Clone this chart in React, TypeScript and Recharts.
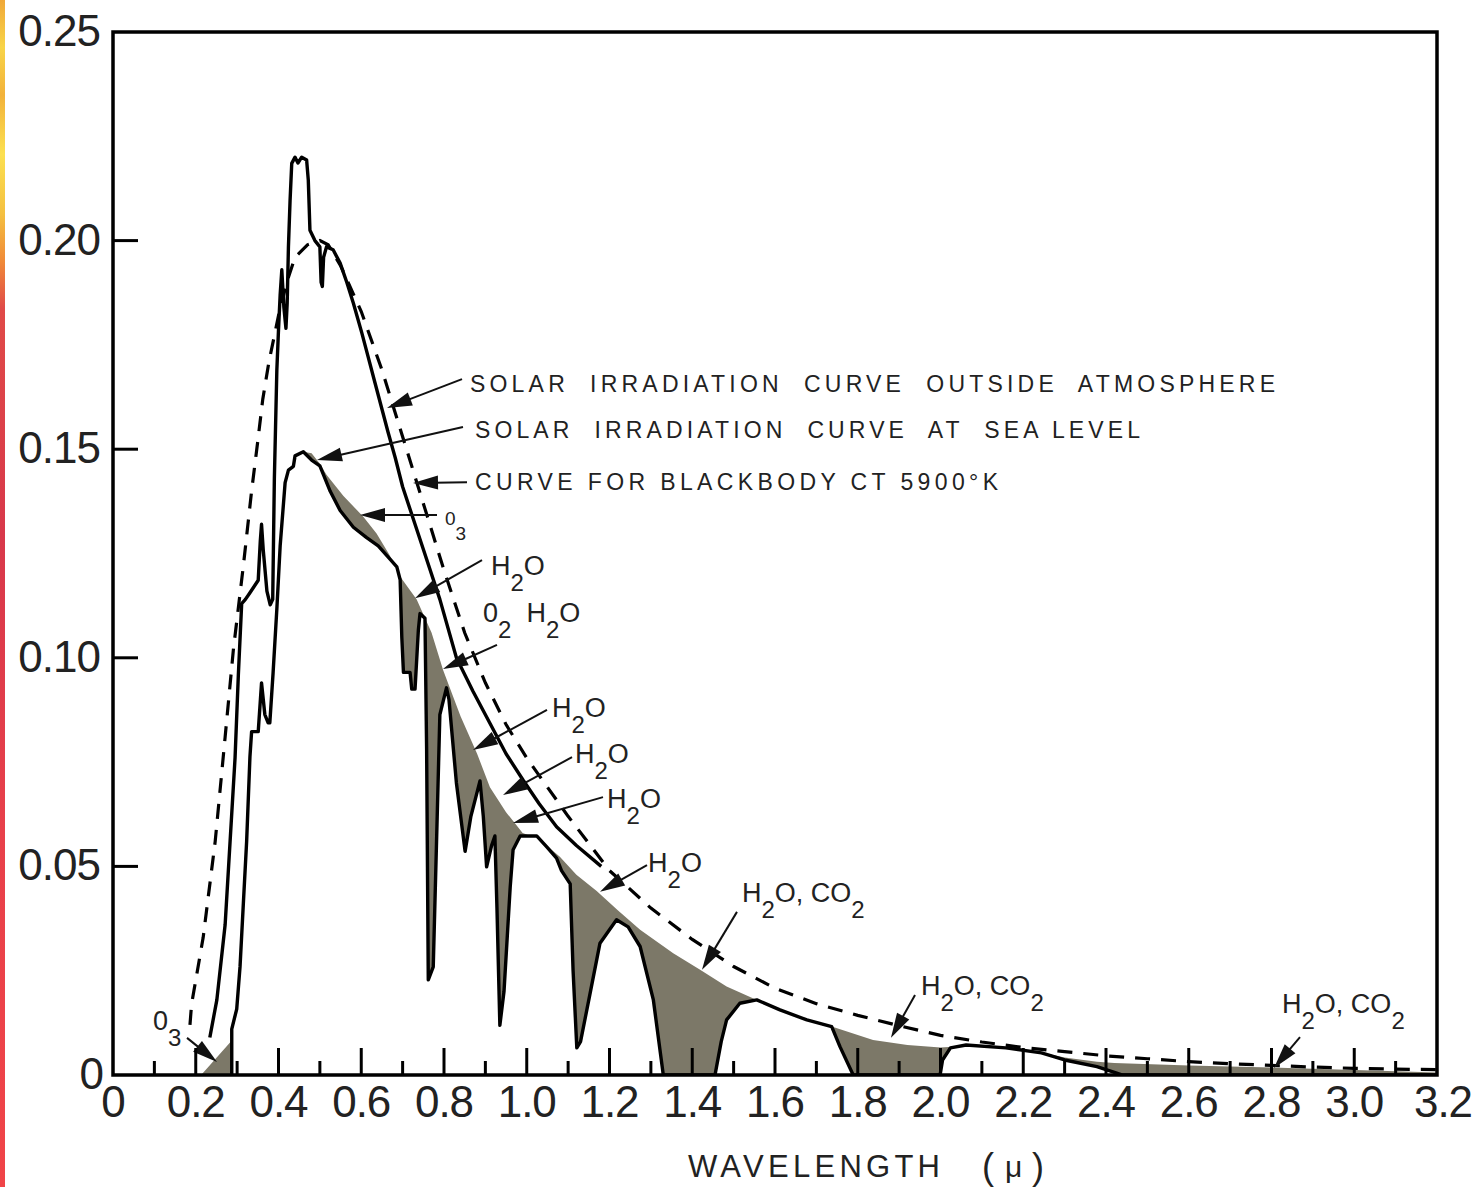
import React from 'react';
import { ComposedChart, Line, Area, XAxis, YAxis, ReferenceLine, ReferenceDot, ReferenceArea, Label } from 'recharts';

type Pt = [number, number];

// Blackbody curve 5900 K (dashed)
const blackbodyCurve: Pt[] = [
  [0.186, 0.012], [0.19, 0.017], [0.218, 0.033], [0.247, 0.056], [0.271, 0.081], [0.291, 0.102],
  [0.315, 0.122], [0.335, 0.14], [0.35, 0.152], [0.362, 0.162], [0.377, 0.171], [0.4, 0.182],
  [0.42, 0.19], [0.44, 0.196], [0.47, 0.199], [0.5, 0.2], [0.52, 0.199], [0.55, 0.194], [0.6, 0.183],
  [0.65, 0.169], [0.7, 0.153], [0.75, 0.137], [0.8, 0.121], [0.85, 0.106], [0.9, 0.094], [0.95, 0.084],
  [1.0, 0.076], [1.1, 0.062], [1.2, 0.049], [1.3, 0.04], [1.4, 0.0325], [1.5, 0.026], [1.6, 0.0208],
  [1.7, 0.0171], [1.8, 0.0143], [1.9, 0.0118], [2.0, 0.0095], [2.1, 0.0079], [2.2, 0.0066], [2.3, 0.0056],
  [2.4, 0.0046], [2.5, 0.0039], [2.6, 0.0032], [2.7, 0.0027], [2.8, 0.0023], [2.9, 0.0019], [3.0, 0.0016],
  [3.1, 0.0014], [3.2, 0.0013],
];

// Solar irradiation outside atmosphere (solid)
const outsideAtmosphere: Pt[] = [
  [0.234, 0.009], [0.251, 0.018], [0.271, 0.036], [0.283, 0.056], [0.295, 0.076], [0.303, 0.096],
  [0.311, 0.113], [0.32, 0.114], [0.331, 0.1156], [0.351, 0.1186], [0.356, 0.128], [0.359, 0.132],
  [0.363, 0.126], [0.372, 0.116], [0.38, 0.1127], [0.386, 0.114], [0.39, 0.143], [0.396, 0.169],
  [0.4, 0.1786], [0.404, 0.187], [0.408, 0.193], [0.413, 0.184], [0.418, 0.179], [0.421, 0.185],
  [0.424, 0.1985], [0.428, 0.2097], [0.432, 0.2185], [0.44, 0.22], [0.447, 0.2186], [0.456, 0.22],
  [0.468, 0.2193], [0.472, 0.2145], [0.476, 0.2025], [0.488, 0.2], [0.5, 0.1985], [0.503, 0.19],
  [0.506, 0.189], [0.509, 0.196], [0.516, 0.1985], [0.532, 0.1978], [0.549, 0.1946], [0.565, 0.19],
  [0.581, 0.185], [0.601, 0.178], [0.617, 0.172], [0.633, 0.166], [0.649, 0.16], [0.665, 0.154],
  [0.682, 0.148], [0.7, 0.141], [0.73, 0.132], [0.75, 0.126], [0.79, 0.114], [0.83, 0.1],
  [0.87, 0.092], [0.911, 0.0843], [0.95, 0.077], [0.991, 0.0707], [1.03, 0.065], [1.072, 0.0595],
  [1.12, 0.055], [1.18, 0.05],
];

// Solar irradiation at sea level (solid, with absorption bands)
const seaLevel: Pt[] = [
  [0.287, 0], [0.287, 0.011], [0.299, 0.0158], [0.307, 0.0259], [0.315, 0.041], [0.323, 0.056],
  [0.331, 0.0763], [0.335, 0.0823], [0.351, 0.0823], [0.359, 0.094], [0.367, 0.0864], [0.375, 0.0844],
  [0.379, 0.0844], [0.387, 0.0965], [0.396, 0.1117], [0.404, 0.1268], [0.416, 0.142], [0.424, 0.145],
  [0.436, 0.1459], [0.44, 0.1484], [0.46, 0.1494], [0.48, 0.1474], [0.5, 0.146], [0.525, 0.1399],
  [0.549, 0.1353], [0.581, 0.1313], [0.613, 0.1288], [0.641, 0.1268], [0.669, 0.1237], [0.686, 0.1218],
  [0.694, 0.1187], [0.698, 0.105], [0.702, 0.0965], [0.718, 0.0965], [0.722, 0.0925], [0.73, 0.0925],
  [0.738, 0.1066], [0.742, 0.1106], [0.754, 0.1095], [0.758, 0.078], [0.762, 0.0228], [0.774, 0.0259],
  [0.782, 0.056], [0.79, 0.0864], [0.806, 0.0928], [0.812, 0.09], [0.83, 0.07], [0.851, 0.0536],
  [0.865, 0.062], [0.887, 0.0705], [0.895, 0.062], [0.903, 0.0499], [0.915, 0.055], [0.923, 0.0573],
  [0.928, 0.04], [0.935, 0.0119], [0.945, 0.02], [0.96, 0.045], [0.967, 0.054], [0.984, 0.0573],
  [1.024, 0.0573], [1.05, 0.0545], [1.072, 0.052], [1.084, 0.049], [1.105, 0.0458], [1.112, 0.025],
  [1.121, 0.0065], [1.13, 0.008], [1.15, 0.018], [1.177, 0.0316], [1.217, 0.0372], [1.245, 0.0355],
  [1.274, 0.0308], [1.306, 0.018], [1.33, 0], [1.455, 0], [1.47, 0.008], [1.483, 0.0132],
  [1.515, 0.0172], [1.556, 0.018], [1.612, 0.0156], [1.677, 0.0132], [1.737, 0.0116], [1.757, 0.0068],
  [1.789, 0], [1.999, 0], [2.005, 0.0036], [2.024, 0.0065], [2.062, 0.0072], [2.158, 0.0065],
  [2.244, 0.0053], [2.3, 0.0036], [2.378, 0.002], [2.424, 0.0005], [2.44, 0], [3.2, 0],
];

// Upper edge of the shaded absorption area (sea level without molecular absorption)
const absorptionEnvelope: Pt[] = [
  [0.46, 0.1494], [0.48, 0.149], [0.5, 0.1465], [0.516, 0.1439], [0.557, 0.1388], [0.605, 0.1338],
  [0.637, 0.1298], [0.669, 0.1245], [0.69, 0.12], [0.734, 0.114], [0.77, 0.106], [0.798, 0.097],
  [0.84, 0.086], [0.88, 0.077], [0.911, 0.069], [0.95, 0.063], [0.99, 0.058], [1.03, 0.0565],
  [1.08, 0.0523], [1.12, 0.048], [1.169, 0.0441], [1.22, 0.0395], [1.274, 0.0348], [1.354, 0.0292],
  [1.419, 0.0252], [1.483, 0.0212], [1.556, 0.018], [1.612, 0.0156], [1.677, 0.0132], [1.737, 0.0116],
  [1.837, 0.0084], [1.92, 0.0072], [2.0, 0.0066], [2.03, 0.0068], [2.08, 0.0069], [2.158, 0.0066],
  [2.244, 0.0054], [2.3, 0.0042], [2.378, 0.0032], [2.42, 0.0029], [2.6, 0.0023], [2.8, 0.0018],
  [3.0, 0.0012], [3.2, 0.0006],
];

// Ozone UV absorption wedge
const ozoneUV: Pt[] = [[0.213, 0], [0.285, 0.008], [0.2875, 0.0085], [0.2875, 0]];

const xTicks = [0, 0.1, 0.2, 0.3, 0.4, 0.5, 0.6, 0.7, 0.8, 0.9, 1.0, 1.1, 1.2, 1.3, 1.4, 1.5, 1.6,
  1.7, 1.8, 1.9, 2.0, 2.1, 2.2, 2.3, 2.4, 2.5, 2.6, 2.7, 2.8, 2.9, 3.0, 3.1, 3.2];
const xTickLabels = ['0', '0.2', '0.4', '0.6', '0.8', '1.0', '1.2', '1.4', '1.6', '1.8', '2.0', '2.2',
  '2.4', '2.6', '2.8', '3.0', '3.2'];
const yTicks = [0, 0.05, 0.1, 0.15, 0.2, 0.25];
const yTickLabels = ['0', '0.05', '0.10', '0.15', '0.20', '0.25'];

type Note = { text: string; at: Pt; from: Pt; tip: Pt; kind: 'long' | 'chem' | 'small'; len?: number };
const annotations: Note[] = [
  { text: 'SOLAR  IRRADIATION  CURVE  OUTSIDE  ATMOSPHERE', at: [0.8628, 0.1637], from: [0.8435, 0.1668], tip: [0.6622, 0.1599], kind: 'long', len: 805 },
  { text: 'SOLAR  IRRADIATION  CURVE  AT  SEA LEVEL', at: [0.8749, 0.1527], from: [0.8459, 0.1553], tip: [0.4931, 0.1474], kind: 'long', len: 665 },
  { text: 'CURVE FOR BLACKBODY CT 5900°K', at: [0.8749, 0.1402], from: [0.8556, 0.1421], tip: [0.7251, 0.1419], kind: 'long', len: 523 },
  { text: '0_3', at: [0.8024, 0.1318], from: [0.7831, 0.1342], tip: [0.597, 0.1342], kind: 'small' },
  { text: 'H_2O', at: [0.9136, 0.1198], from: [0.8918, 0.1234], tip: [0.7299, 0.1143], kind: 'chem' },
  { text: '0_2  H_2O', at: [0.8943, 0.1086], from: [0.9281, 0.1031], tip: [0.7976, 0.0973], kind: 'chem' },
  { text: 'H_2O', at: [1.061, 0.0858], from: [1.0489, 0.0875], tip: [0.8701, 0.0779], kind: 'chem' },
  { text: 'H_2O', at: [1.1166, 0.0748], from: [1.1094, 0.0762], tip: [0.9426, 0.0671], kind: 'chem' },
  { text: 'H_2O', at: [1.194, 0.064], from: [1.1843, 0.0666], tip: [0.9668, 0.0604], kind: 'chem' },
  { text: 'H_2O', at: [1.2931, 0.0487], from: [1.2906, 0.0503], tip: [1.177, 0.0439], kind: 'chem' },
  { text: 'H_2O, CO_2', at: [1.5202, 0.0415], from: [1.5081, 0.0391], tip: [1.4236, 0.0252], kind: 'chem' },
  { text: 'H_2O, CO_2', at: [1.9529, 0.0192], from: [1.9384, 0.0192], tip: [1.8803, 0.0089], kind: 'chem' },
  { text: 'H_2O, CO_2', at: [2.8254, 0.0149], from: [2.8689, 0.0091], tip: [2.806, 0.0017], kind: 'chem' },
  { text: '0_3', at: [0.0967, 0.0108], from: [0.1789, 0.0089], tip: [0.2514, 0.0031], kind: 'chem' },
];

const rows = (pts: Pt[]) => pts.map(([x, v]) => ({ x, v }));

const FONT = '"Liberation Sans", Arial, Helvetica, sans-serif';
const INK = '#000';
const TEXT = '#222';
const GRAY = '#7c7868';

const renderChem = (str: string, subSize: number, subDy: number) => {
  const out: React.ReactNode[] = [];
  let buf = '';
  let lowered = false;
  let k = 0;
  const flush = () => {
    if (!buf) return;
    out.push(<tspan key={k++} dy={lowered ? -subDy : undefined}>{buf}</tspan>);
    lowered = false;
    buf = '';
  };
  for (let i = 0; i < str.length; i++) {
    if (str[i] === '_' && i + 1 < str.length) {
      flush();
      out.push(<tspan key={k++} fontSize={subSize} dy={subDy}>{str[i + 1]}</tspan>);
      lowered = true;
      i++;
    } else buf += str[i];
  }
  flush();
  return out;
};

const NoteText = ({ cx, cy, note }: { cx: number; cy: number; note: Note }) => {
  if (note.kind === 'long') {
    return (
      <text x={cx} y={cy} fontSize={23} fill={TEXT} fontFamily={FONT} textLength={note.len}
        lengthAdjust="spacing" style={{ whiteSpace: 'pre' }}>{note.text}</text>
    );
  }
  const size = note.kind === 'small' ? 19 : 27;
  const sub = note.kind === 'small' ? 19 : 24;
  const dy = note.kind === 'small' ? 15 : 16;
  return (
    <text x={cx} y={cy} fontSize={size} fill={TEXT} fontFamily={FONT} style={{ whiteSpace: 'pre' }}>
      {renderChem(note.text, sub, dy)}
    </text>
  );
};

const ArrowShape = (props: any) => {
  const { x1, y1, x2, y2 } = props;
  if ([x1, y1, x2, y2].some((v) => typeof v !== 'number' || isNaN(v))) return null;
  const dx = x2 - x1;
  const dy = y2 - y1;
  const L = Math.hypot(dx, dy) || 1;
  const ux = dx / L;
  const uy = dy / L;
  const hl = 25;
  const hw = 7;
  const bx = x2 - ux * hl;
  const by = y2 - uy * hl;
  const px = -uy;
  const py = ux;
  return (
    <g>
      <line x1={x1} y1={y1} x2={bx + ux * 4} y2={by + uy * 4} stroke="#111" strokeWidth={2} />
      <polygon points={`${x2},${y2} ${bx + px * hw},${by + py * hw} ${bx - px * hw},${by - py * hw}`} fill="#111" />
    </g>
  );
};

const BottomTick = (props: any) => {
  const { x, y, payload } = props;
  const tenth = Math.round(payload.value * 10);
  const major = tenth % 2 === 0;
  const showLine = tenth > 0 && tenth < 32;
  const label = major ? xTickLabels[tenth / 2] : '';
  return (
    <g>
      {showLine && <line x1={x} y1={y} x2={x} y2={y - (major ? 27 : 14)} stroke={INK} strokeWidth={3} />}
      {label && (
        <text x={x + (tenth === 32 ? 6 : 0)} y={y + 42} textAnchor="middle" fontSize={44} fill={TEXT}
          fontFamily={FONT} letterSpacing={-1}>{label}</text>
      )}
    </g>
  );
};

const TopTick = (props: any) => {
  const { x, y, payload } = props;
  const tenth = Math.round(payload.value * 10);
  if (tenth <= 0 || tenth >= 32) return <g />;
  const major = tenth % 2 === 0;
  return <line x1={x} y1={y} x2={x} y2={y + (major ? 24 : 12)} stroke={INK} strokeWidth={3} />;
};

const LeftTick = (props: any) => {
  const { x, y, payload, index } = props;
  const v = payload.value;
  const inner = v > 0.001 && v < 0.249;
  const label = yTickLabels[index] ?? '';
  return (
    <g>
      {inner && <line x1={x} y1={y} x2={x + 25} y2={y} stroke={INK} strokeWidth={3} />}
      <text x={x - (v === 0 ? 10 : 13)} y={y + 14} textAnchor="end" fontSize={44} fill={TEXT}
        fontFamily={FONT} letterSpacing={-1}>{label}</text>
    </g>
  );
};

const RightTick = (props: any) => {
  const { x, y, payload } = props;
  const v = payload.value;
  if (!(v > 0.001 && v < 0.249)) return <g />;
  return <line x1={x} y1={y} x2={x - 22} y2={y} stroke={INK} strokeWidth={3} />;
};

const AxisTitle = (props: any) => {
  const vb = props.viewBox || { x: 0, y: 0 };
  const x0 = vb.x + 575;
  const base = vb.y + 102;
  return (
    <g fontFamily={FONT} fill={TEXT}>
      <text x={x0} y={base} fontSize={31} textLength={252} lengthAdjust="spacing">WAVELENGTH</text>
      <text x={x0 + 294} y={base + 2} fontSize={36}>(</text>
      <text x={x0 + 317} y={base} fontSize={30}>μ</text>
      <text x={x0 + 344} y={base + 2} fontSize={36}>)</text>
    </g>
  );
};

export default function App() {
  return (
    <div style={{ position: 'absolute', left: 0, top: 0, width: 1483, height: 1187, background: '#fff' }}>
      <div
        style={{
          position: 'absolute', left: 0, top: 0, width: 5, height: 1187,
          background: 'linear-gradient(to bottom, #f0a838 0%, #f8d448 4%, #f2b23a 8%, #fce050 13%, #f4c040 18%, #f08a38 22%, #e04a48 26%, #d8384a 45%, #e8404a 70%, #f04448 100%)',
        }}
      />
      <ComposedChart width={1483} height={1187} margin={{ top: 32, right: 46, bottom: 0, left: 0 }}>
        <XAxis xAxisId={0} dataKey="x" type="number" domain={[0, 3.2]} ticks={xTicks} interval={0}
          height={112} tickSize={0} tickMargin={0} axisLine={false} tickLine={false}
          tick={(p: any) => <BottomTick {...p} />} allowDataOverflow>
          <Label content={AxisTitle} />
        </XAxis>
        <XAxis xAxisId="top" orientation="top" type="number" domain={[0, 3.2]} ticks={xTicks} interval={0}
          height={0} tickSize={0} tickMargin={0} axisLine={false} tickLine={false}
          tick={(p: any) => <TopTick {...p} />} allowDataOverflow />
        <YAxis yAxisId={0} type="number" domain={[0, 0.25]} ticks={yTicks} interval={0} width={113}
          tickSize={0} tickMargin={0} axisLine={false} tickLine={false}
          tick={(p: any) => <LeftTick {...p} />} allowDataOverflow />
        <YAxis yAxisId="right" orientation="right" type="number" domain={[0, 0.25]} ticks={yTicks} interval={0}
          width={0} tickSize={0} tickMargin={0} axisLine={false} tickLine={false}
          tick={(p: any) => <RightTick {...p} />} allowDataOverflow />

        <Area data={rows(ozoneUV)} dataKey="v" type="linear" stroke="none" fill={GRAY} fillOpacity={1}
          dot={false} activeDot={false} isAnimationActive={false} />
        <Area data={rows(absorptionEnvelope)} dataKey="v" type="linear" stroke="none" fill={GRAY} fillOpacity={1}
          dot={false} activeDot={false} isAnimationActive={false} />
        <Area data={rows(seaLevel)} dataKey="v" type="linear" stroke="none" fill="#fff" fillOpacity={1}
          dot={false} activeDot={false} isAnimationActive={false} />

        <Line data={rows(blackbodyCurve)} dataKey="v" type="linear" stroke={INK} strokeWidth={3.2}
          strokeDasharray="15 11" dot={false} activeDot={false} isAnimationActive={false} />
        <Line data={rows(outsideAtmosphere)} dataKey="v" type="linear" stroke={INK} strokeWidth={3.4}
          strokeLinejoin="round" dot={false} activeDot={false} isAnimationActive={false} />
        <Line data={rows(seaLevel)} dataKey="v" type="linear" stroke={INK} strokeWidth={3.4}
          strokeLinejoin="round" dot={false} activeDot={false} isAnimationActive={false} />

        <ReferenceArea x1={0} x2={3.2} y1={0} y2={0.25} fill="none" stroke={INK} strokeWidth={3.5} />

        {annotations.map((a, i) => (
          <ReferenceLine key={`arrow-${i}`} segment={[{ x: a.from[0], y: a.from[1] }, { x: a.tip[0], y: a.tip[1] }]}
            shape={ArrowShape} />
        ))}
        {annotations.map((a, i) => (
          <ReferenceDot key={`text-${i}`} x={a.at[0]} y={a.at[1]} r={0}
            shape={(p: any) => <NoteText cx={p.cx} cy={p.cy} note={a} />} />
        ))}
      </ComposedChart>
    </div>
  );
}
